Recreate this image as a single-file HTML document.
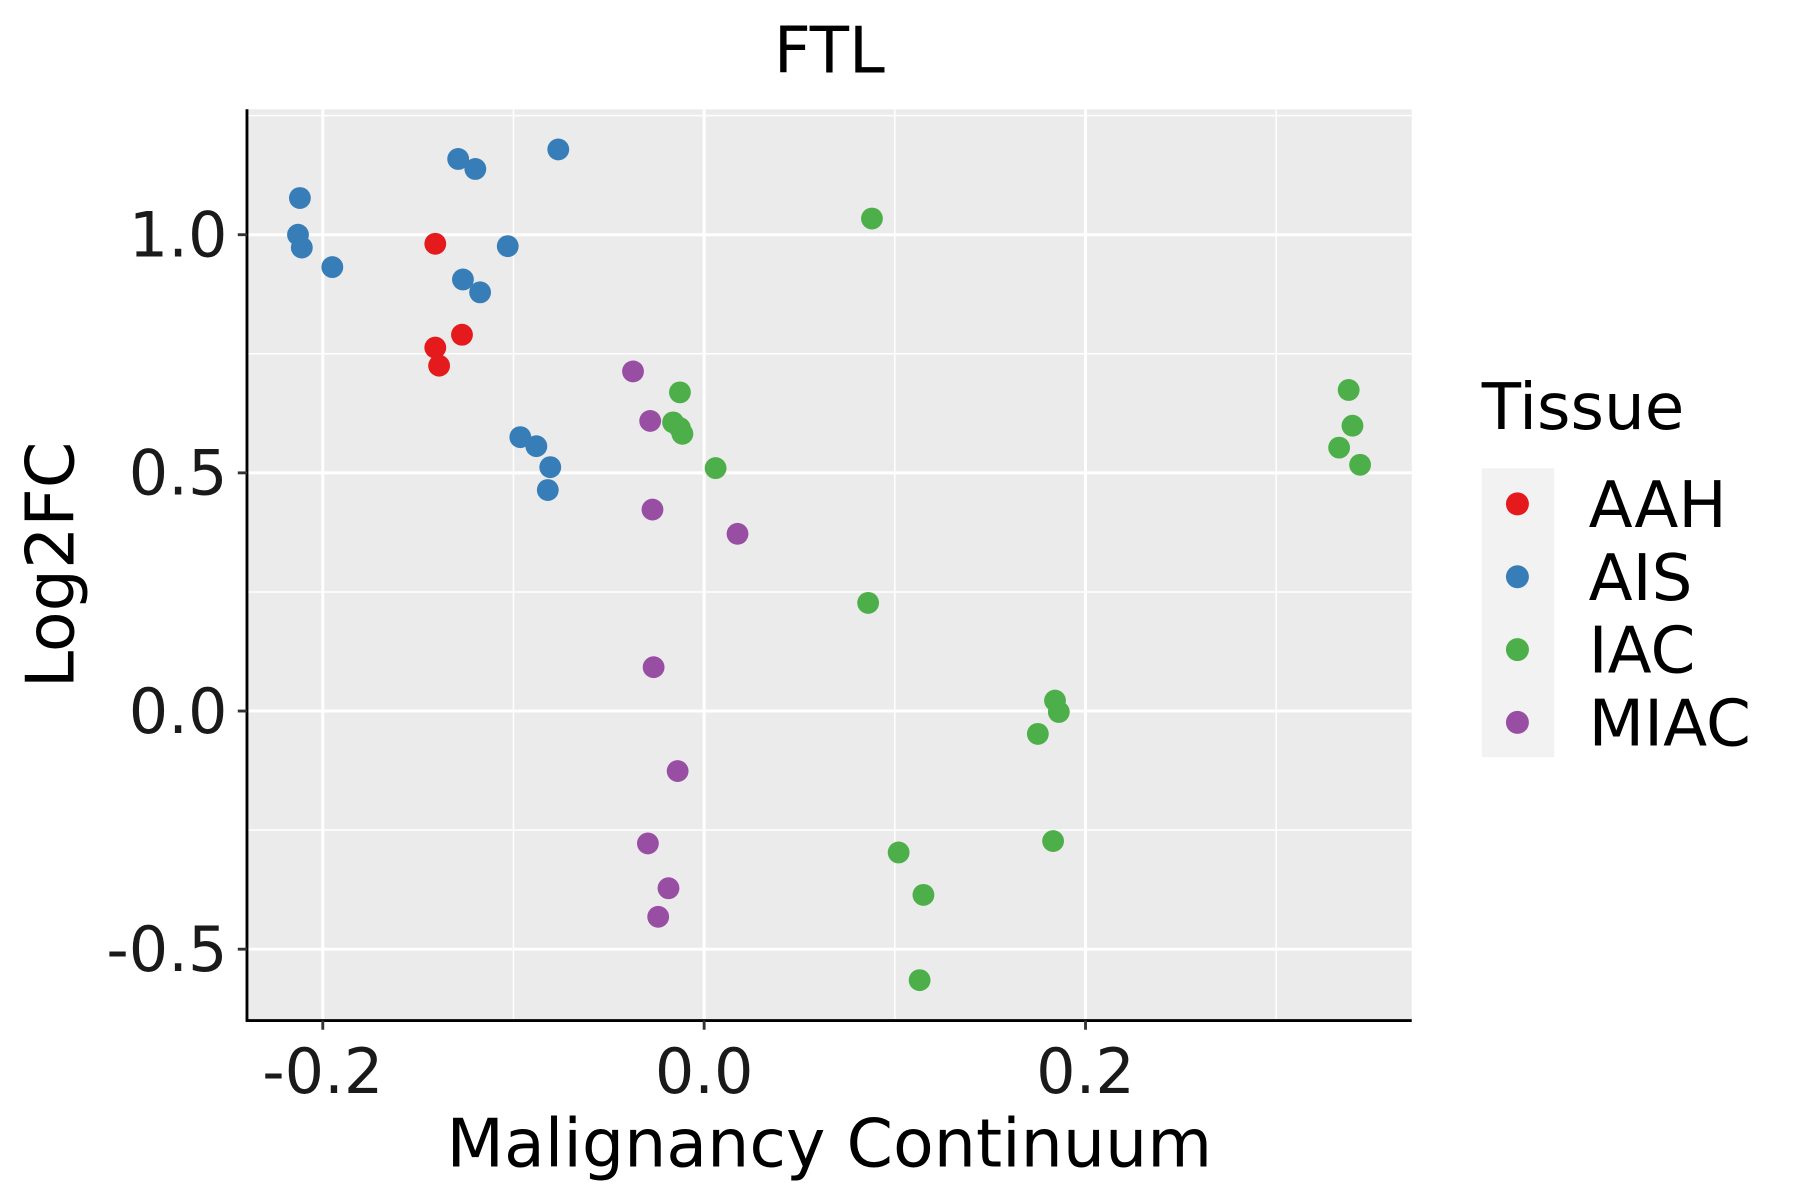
<!DOCTYPE html>
<html><head><meta charset="utf-8"><style>
html,body{margin:0;padding:0;background:#fff;width:1800px;height:1200px;overflow:hidden}
svg{display:block;font-family:"DejaVu Sans","Liberation Sans",sans-serif}
</style></head><body>
<svg id="chart" width="1800" height="1200" viewBox="0 0 1567 1043" preserveAspectRatio="none" xmlns="http://www.w3.org/2000/svg">
<rect x="215" y="95" width="1014" height="792" fill="#EBEBEB"/>
<g id="grid"></g>
<g id="points"></g>
<line x1="215" y1="95" x2="215" y2="888" stroke="#000" stroke-width="2.5"/>
<line x1="214" y1="887" x2="1229" y2="887" stroke="#000" stroke-width="2.5"/>
<g id="ticks" font-size="54" fill="#1a1a1a"></g>
<text x="722" y="63" font-size="56" text-anchor="middle">FTL</text>
<text x="722" y="1014" font-size="58" text-anchor="middle">Malignancy Continuum</text>
<text transform="translate(64,491) rotate(-90)" font-size="58" text-anchor="middle">Log2FC</text>
<text x="1290" y="373" font-size="56">Tissue</text>
<rect x="1290" y="407" width="63" height="251" fill="#F2F2F2"/>
<g id="legend" font-size="56"></g>
</svg>
<script>
const groups = ["AAH","AIS","IAC","MIAC"];
const colors = ["#E41A1C","#377EB8","#4DAF4A","#984EA3"];
const aahX = [-0.141,-0.141,-0.127,-0.139];
const aahY = [0.981,0.763,0.790,0.725];
const aisX = [-0.212,-0.213,-0.211,-0.195,-0.129,-0.120,-0.0765,-0.103,-0.1265,-0.1175,-0.0964,-0.088,-0.0807,-0.082];
const aisY = [1.077,1.0,0.973,0.932,1.159,1.138,1.179,0.976,0.906,0.879,0.575,0.556,0.512,0.464];
const iacX = [0.088,-0.0127,-0.0163,-0.0127,-0.0114,0.006,0.086,0.184,0.186,0.175,0.183,0.102,0.115,0.113,0.338,0.340,0.333,0.344];
const iacY = [1.034,0.669,0.606,0.594,0.582,0.510,0.227,0.022,-0.002,-0.048,-0.273,-0.297,-0.386,-0.565,0.674,0.599,0.553,0.517];
const miacX = [-0.0373,-0.0283,-0.0271,0.0175,-0.0265,-0.0139,-0.0295,-0.0187,-0.0241];
const miacY = [0.713,0.609,0.423,0.372,0.092,-0.126,-0.278,-0.372,-0.432];
const xTicks = [-0.2,0.0,0.2];
const xTickLabels = ["-0.2","0.0","0.2"];
const yTicks = [-0.5,0.0,0.5,1.0];
const yTickLabels = ["-0.5","0.0","0.5","1.0"];
const xMinor = [-0.1,0.1,0.3];
const yMinor = [-0.25,0.25,0.75,1.25];

const NS = "http://www.w3.org/2000/svg";
function sx(v){ return 613 + v*1660; }
function sy(v){ return 618 - v*414; }
function mk(tag, attrs, parent){ const e=document.createElementNS(NS,tag); for(const k in attrs) e.setAttribute(k,attrs[k]); parent.appendChild(e); return e; }

const grid = document.getElementById('grid');
xMinor.forEach(v=>{ const l=mk('line',{x1:sx(v),x2:sx(v),y1:95,y2:887,stroke:'#fff','stroke-width':1.3},grid);

 });
yMinor.forEach(v=>{ const y=sy(v); if(y<95) return; const l=mk('line',{x1:215,x2:1229,y1:y,y2:y,stroke:'#fff','stroke-width':1.3},grid);

 });
xTicks.forEach(v=>{ const l=mk('line',{x1:sx(v),x2:sx(v),y1:95,y2:887,stroke:'#fff','stroke-width':2.6},grid);

 });
yTicks.forEach(v=>{ const l=mk('line',{x1:215,x2:1229,y1:sy(v),y2:sy(v),stroke:'#fff','stroke-width':2.6},grid);

 });

const ticks = document.getElementById('ticks');
xTicks.forEach((v,i)=>{
  const t=mk('line',{x1:sx(v),x2:sx(v),y1:887,y2:895,stroke:'#333','stroke-width':2.5},ticks);
  
  
  const tx=mk('text',{x:sx(v),y:950,'text-anchor':'middle'},ticks); tx.textContent=xTickLabels[i];
  
  
});
yTicks.forEach((v,i)=>{
  const t=mk('line',{x1:207,x2:215,y1:sy(v),y2:sy(v),stroke:'#333','stroke-width':2.5},ticks);
  
  
  const tx=mk('text',{x:198,y:sy(v)+19,'text-anchor':'end'},ticks); tx.textContent=yTickLabels[i];
  
  
});

const pts = document.getElementById('points');
const series = [[aahX,aahY],[aisX,aisY],[iacX,iacY],[miacX,miacY]];
series.forEach((s,g)=>{
  s[0].forEach((xv,i)=>{
    const c=mk('circle',{cx:sx(xv),cy:sy(s[1][i]),r:9.5,fill:colors[g]},pts);
    
    
  });
});

const leg = document.getElementById('legend');
groups.forEach((g,i)=>{
  const y = 438 + i*63.3;
  const c=mk('circle',{cx:1321,cy:y,r:10,fill:colors[i]},leg);
  
  
  const t=mk('text',{x:1383,y:y+20},leg); t.textContent=g;
  
  
});
</script>
</body></html>
